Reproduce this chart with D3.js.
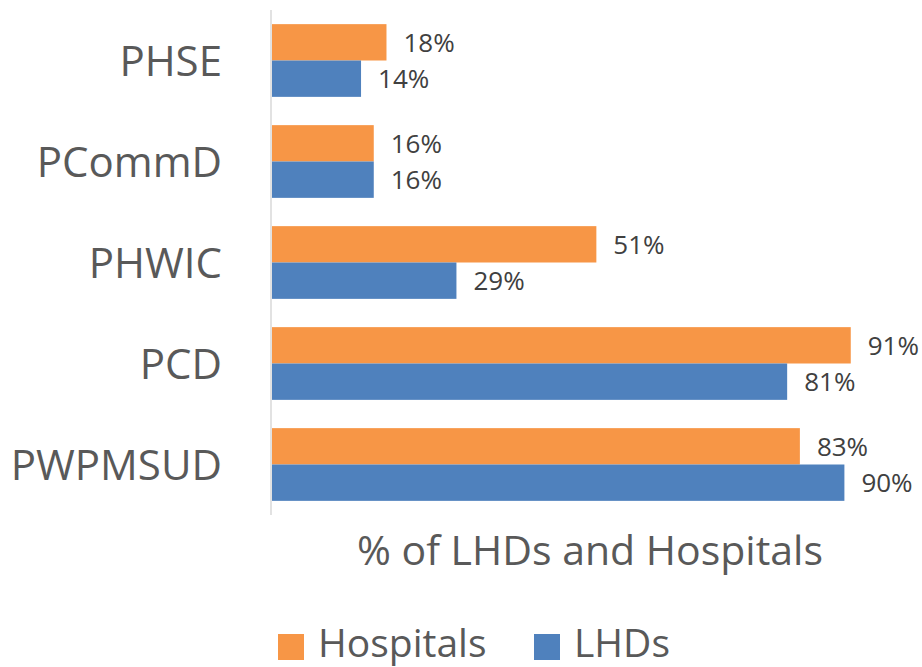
<!DOCTYPE html>
<html>
<head>
<meta charset="utf-8">
<script src="https://cdn.jsdelivr.net/npm/d3@7"></script>
<style>
  body { margin: 0; background: #fff; }
  text { font-family: "Open Sans", sans-serif; }
</style>
</head>
<body>
<svg id="chart"></svg>
<script>
const categories = ["PHSE", "PCommD", "PHWIC", "PCD", "PWPMSUD"];
const seriesNames = ["Hospitals", "LHDs"];
const hospitals = [18, 16, 51, 91, 83];
const lhds = [14, 16, 29, 81, 90];
const colors = ["#F79646", "#4F81BD"];

var width = 922, height = 667;
var svg = d3.select("#chart").attr("width", width).attr("height", height);

var rows = categories.map((c, i) => ({ cat: c, values: [hospitals[i], lhds[i]] }));

var yScale = d3.scaleBand()
  .domain(categories)
  .range([10, 515])
  .paddingInner(0.28)
  .paddingOuter(0.14);

var ySub = d3.scaleBand()
  .domain(seriesNames)
  .range([0, yScale.bandwidth()]);

var xScale = d3.scaleLinear()
  .domain([0, 100])
  .range([272, 908]);

// category labels
svg.append("g")
  .selectAll("text")
  .data(categories)
  .join("text")
  .attr("x", 222)
  .attr("y", d => yScale(d) + yScale.bandwidth() / 2)
  .attr("dy", "0.36em")
  .attr("text-anchor", "end")
  .attr("font-size", 42)
  .attr("fill", "#595959")
  .text(d => d);

// axis line
svg.append("line")
  .attr("x1", 271).attr("x2", 271)
  .attr("y1", 10).attr("y2", 515)
  .attr("stroke", "#d9d9d9")
  .attr("stroke-width", 1.5);

var groups = svg.append("g")
  .selectAll("g")
  .data(rows)
  .join("g")
  .attr("transform", d => `translate(0,${yScale(d.cat)})`);

var cells = groups.selectAll("g")
  .data(d => d.values.map((v, j) => ({ name: seriesNames[j], value: v, color: colors[j] })))
  .join("g");

cells.append("rect")
  .attr("x", xScale(0))
  .attr("y", d => ySub(d.name))
  .attr("width", d => xScale(d.value) - xScale(0))
  .attr("height", ySub.bandwidth())
  .attr("fill", d => d.color);

cells.append("text")
  .attr("x", d => xScale(d.value) + 17)
  .attr("y", d => ySub(d.name) + ySub.bandwidth() / 2)
  .attr("dy", "0.36em")
  .attr("font-size", 26)
  .attr("fill", "#404040")
  .text(d => d.value + "%");

// axis title
svg.append("text")
  .attr("x", 590)
  .attr("y", 565)
  .attr("text-anchor", "middle")
  .attr("font-size", 41)
  .attr("fill", "#595959")
  .text("% of LHDs and Hospitals");

// legend
var legendX = [278, 534];
var legend = svg.append("g")
  .selectAll("g")
  .data(seriesNames)
  .join("g")
  .attr("transform", (d, i) => `translate(${legendX[i]},634)`);

legend.append("rect")
  .attr("width", 26).attr("height", 26)
  .attr("fill", (d, i) => colors[i]);

legend.append("text")
  .attr("x", 40)
  .attr("y", 23)
  .attr("font-size", 39)
  .attr("fill", "#595959")
  .text(d => d);
</script>
</body>
</html>
